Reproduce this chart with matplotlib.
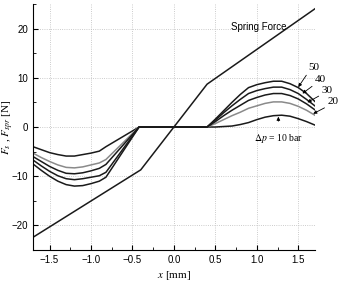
import matplotlib
matplotlib.use("Agg")
import matplotlib.pyplot as plt
from matplotlib.ticker import MultipleLocator

# spring force (piecewise linear)
spring_x = [-1.7, -0.4, 0.4, 1.7]
spring_y = [-22.4, -8.7, 8.7, 24.0]

# flow force curves, left branch + right branch (zero in between)
x_left = [-1.7, -1.6, -1.5, -1.4, -1.3, -1.2, -1.1, -1.0, -0.9, -0.82, -0.42]
x_right = [0.4, 0.5, 0.6, 0.7, 0.8, 0.9, 1.0, 1.1, 1.2, 1.3, 1.4, 1.5, 1.6, 1.7]

dp_labels = ["10", "20", "30", "40", "50"]
f_left = {
    "10": [-4.0, -4.6, -5.2, -5.6, -5.9, -5.9, -5.6, -5.3, -4.9, -4.0, 0.0],
    "20": [-5.3, -6.2, -7.0, -7.7, -8.2, -8.3, -8.1, -7.7, -7.3, -6.6, 0.0],
    "30": [-6.0, -7.0, -8.0, -8.8, -9.4, -9.5, -9.3, -8.9, -8.4, -7.6, 0.0],
    "40": [-6.7, -7.9, -9.0, -9.9, -10.5, -10.7, -10.5, -10.2, -9.9, -9.2, 0.0],
    "50": [-7.5, -8.8, -10.0, -11.0, -11.7, -12.0, -11.9, -11.5, -11.0, -10.2, 0.0],
}
f_right = {
    "10": [0.0, 0.0, 0.1, 0.2, 0.5, 0.9, 1.5, 2.0, 2.3, 2.4, 2.2, 1.7, 1.1, 0.4],
    "20": [0.0, 0.7, 1.5, 2.3, 3.0, 3.8, 4.3, 4.8, 5.1, 5.1, 4.8, 4.2, 3.4, 2.4],
    "30": [0.0, 1.1, 2.3, 3.4, 4.4, 5.4, 6.0, 6.5, 6.8, 6.8, 6.4, 5.7, 4.7, 3.5],
    "40": [0.0, 1.4, 2.9, 4.3, 5.6, 6.8, 7.4, 7.8, 8.1, 8.1, 7.6, 6.8, 5.6, 4.3],
    "50": [0.0, 1.6, 3.3, 5.0, 6.6, 8.0, 8.6, 9.0, 9.3, 9.3, 8.8, 8.0, 6.8, 5.2],
}
colors = {"10": "#1a1a1a", "20": "#8a8a8a", "30": "#1a1a1a", "40": "#1a1a1a", "50": "#1a1a1a"}

# label positions and arrow targets for the right-side annotations
ann_text = {"50": (1.62, 12.0), "40": (1.70, 9.6), "30": (1.78, 7.5), "20": (1.85, 5.1)}
ann_tip = {"50": (1.50, 8.1), "40": (1.55, 6.8), "30": (1.61, 5.0), "20": (1.68, 2.7)}

plt.rcParams["mathtext.fontset"] = "stix"

fig = plt.figure(figsize=(3.4, 2.81), dpi=100)
ax = fig.add_axes([0.097, 0.11, 0.829, 0.876])

ax.plot(spring_x, spring_y, color="#1a1a1a", lw=1.1)
for k in dp_labels:
    ax.plot(x_left + x_right, f_left[k] + f_right[k], color=colors[k], lw=1.1)

ax.text(1.02, 20.4, "Spring Force", fontsize=7, family="Liberation Sans",
        ha="center", va="center")

for k in ["50", "40", "30", "20"]:
    ax.annotate(k, xy=ann_tip[k], xytext=ann_text[k], fontsize=8,
                family="Liberation Serif", ha="left", va="center",
                annotation_clip=False,
                arrowprops=dict(arrowstyle="-|>", color="black", lw=0.6,
                                mutation_scale=5, shrinkA=0, shrinkB=0,
                                relpos=(0.0, 0.0)))

ax.annotate(r"$\Delta p$ = 10 bar", xy=(1.26, 2.1), xytext=(1.26, -2.4),
            fontsize=7, family="Liberation Serif", ha="center", va="center",
            arrowprops=dict(arrowstyle="-|>", color="black", lw=0.6,
                            mutation_scale=5, shrinkA=6, shrinkB=0))

ax.set_xlim(-1.7, 1.7)
ax.set_ylim(-25, 25)
ax.xaxis.set_major_locator(MultipleLocator(0.5))
ax.xaxis.set_minor_locator(MultipleLocator(0.25))
ax.yaxis.set_major_locator(MultipleLocator(10))
ax.yaxis.set_minor_locator(MultipleLocator(5))
ax.tick_params(which="both", direction="in", labelsize=7)
ax.tick_params(which="major", length=3.5, width=0.8)
ax.tick_params(which="minor", length=2, width=0.6)
for lab in ax.get_xticklabels() + ax.get_yticklabels():
    lab.set_family("Liberation Sans")

ax.spines["top"].set_visible(False)
ax.spines["right"].set_visible(False)
ax.grid(True, which="major", color="#bbbbbb", ls=":", lw=0.6)

ax.set_xlabel(r"$x$ [mm]", fontsize=8, family="Liberation Serif", labelpad=3)
ax.set_ylabel(r"$F_{s}$ , $F_{spr}$ [N]", fontsize=8, family="Liberation Serif")
ax.yaxis.set_label_coords(-0.06, 0.5)

fig.savefig("out.png", dpi=100)
